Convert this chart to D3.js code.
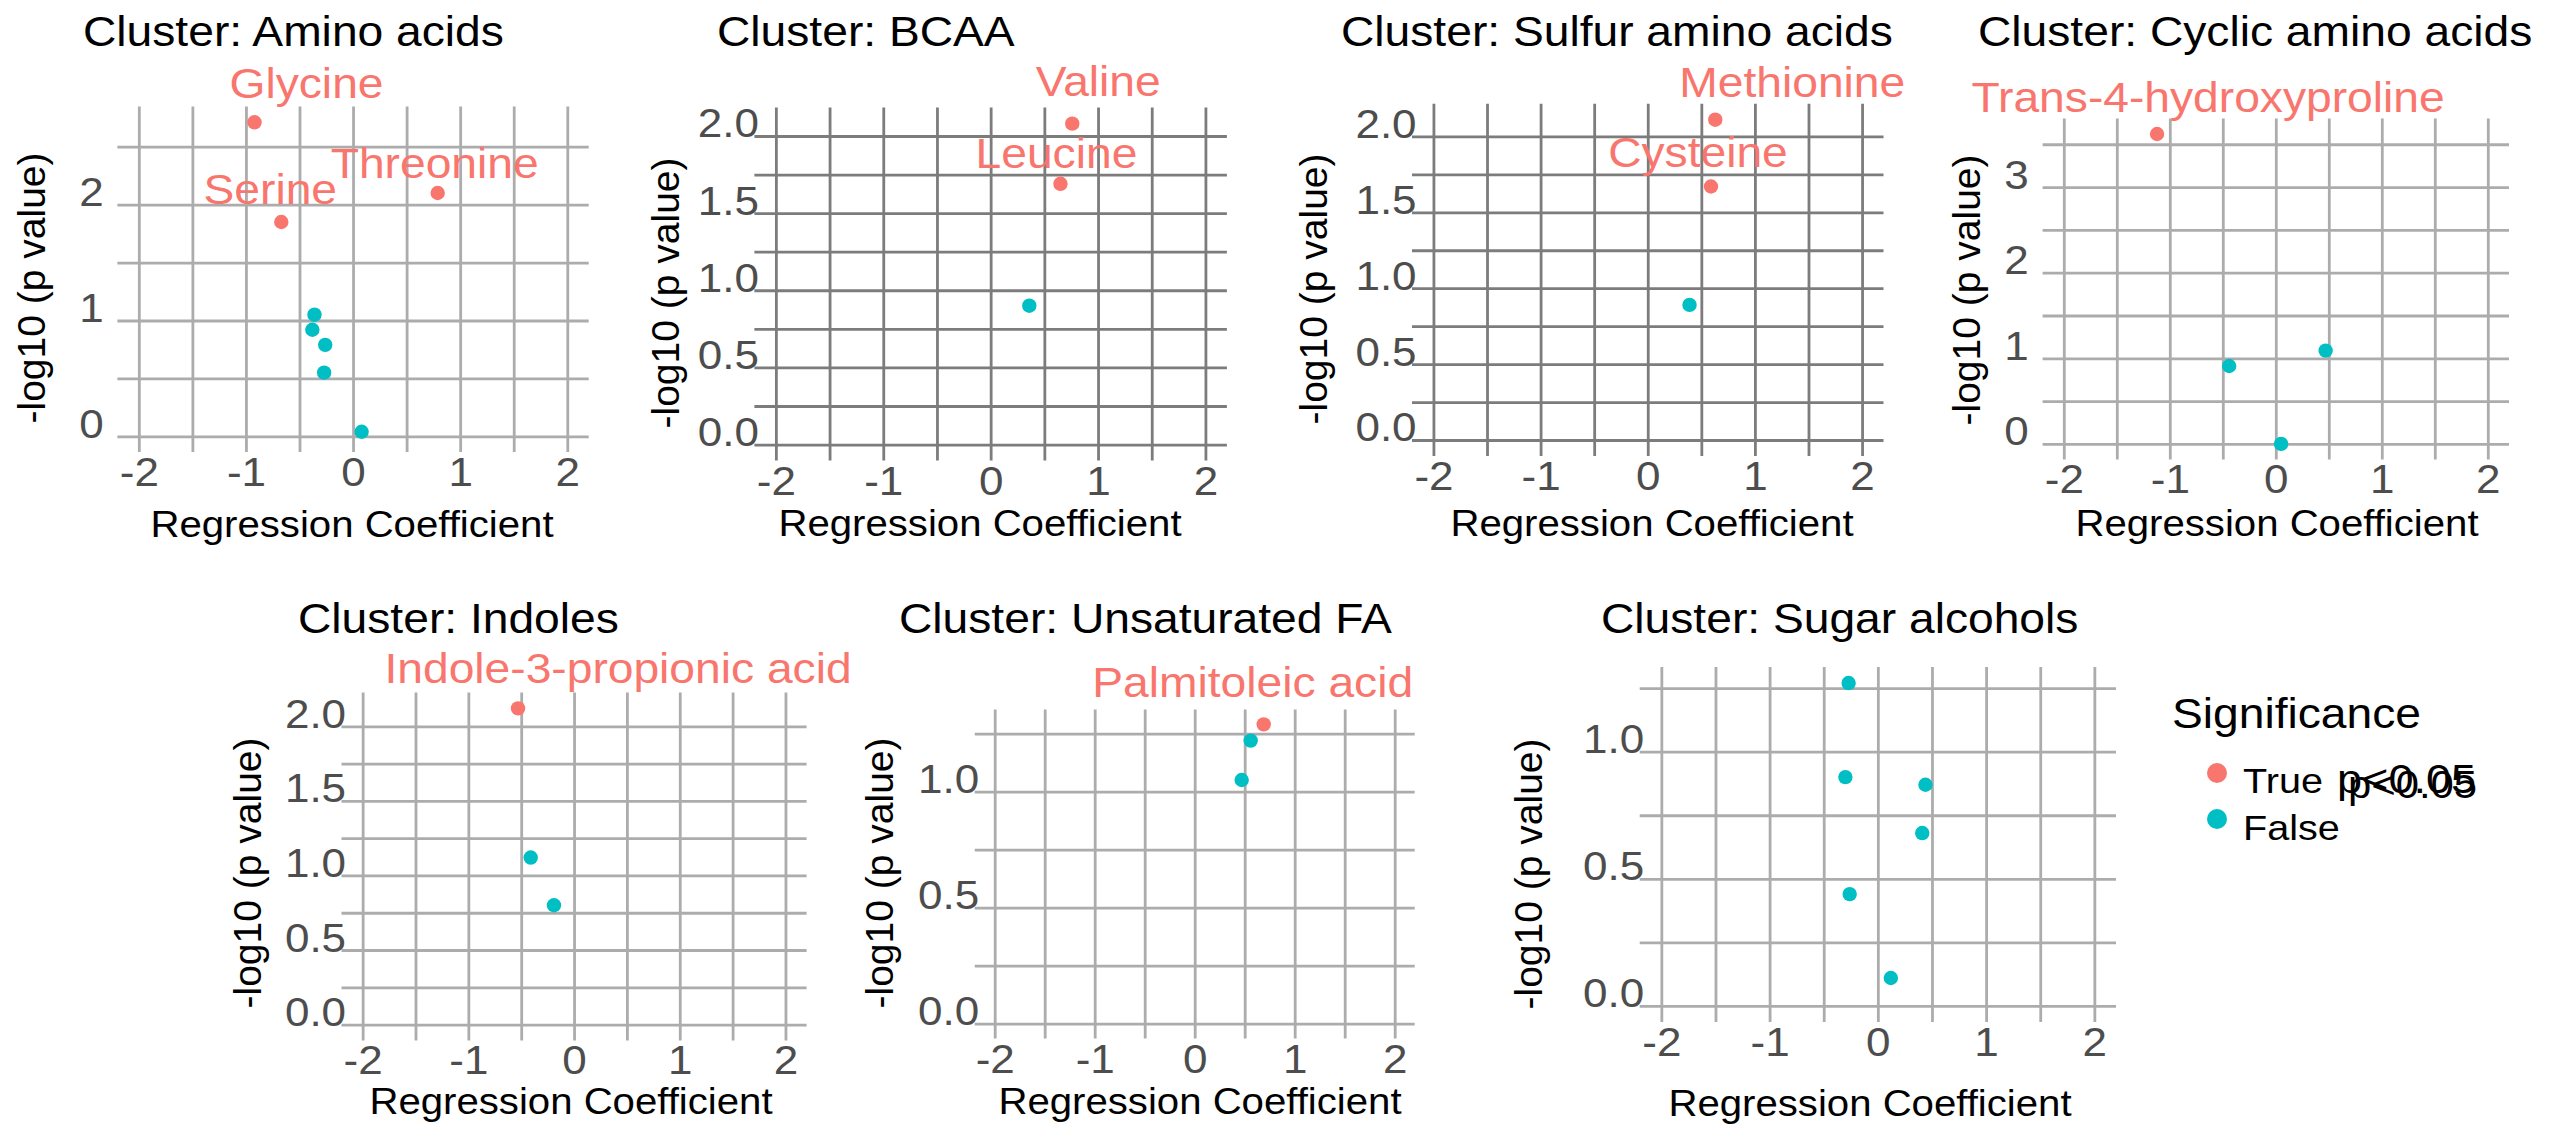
<!DOCTYPE html>
<html>
<head>
<meta charset="utf-8">
<script src="https://cdn.jsdelivr.net/npm/d3@7"></script>
<style>
  html, body { margin: 0; padding: 0; background: #fff; }
  svg { display: block; font-family: "Liberation Sans", Arial, sans-serif; }
</style>
</head>
<body>
<div id="chart"></div>
<script>
// ---- data ----
const clusterNames = ["Amino acids", "BCAA", "Sulfur amino acids", "Cyclic amino acids",
                      "Indoles", "Unsaturated FA", "Sugar alcohols"];

const coefValues = [
  [-0.92, -0.67, 0.79, -0.36, -0.38, -0.26, -0.27, 0.08],
  [0.76, 0.65, 0.36],
  [0.63, 0.59, 0.39],
  [-1.12, -0.44, 0.47, 0.05],
  [-0.53, -0.41, -0.19],
  [0.69, 0.56, 0.47],
  [-0.27, -0.30, 0.44, 0.41, -0.26, 0.12]
];

const logPValues = [
  [2.71, 1.85, 2.10, 1.05, 0.92, 0.79, 0.55, 0.04],
  [2.08, 1.69, 0.90],
  [2.11, 1.67, 0.89],
  [3.62, 0.91, 1.09, 0.00],
  [2.12, 1.12, 0.80],
  [1.29, 1.22, 1.05],
  [1.27, 0.90, 0.87, 0.68, 0.44, 0.11]
];

const significant = [
  [true, true, true, false, false, false, false, false],
  [true, true, false],
  [true, true, false],
  [true, false, false, false],
  [true, false, false],
  [true, false, false],
  [false, false, false, false, false, false]
];

const pointLabels = [
  ["Glycine", "Serine", "Threonine", "", "", "", "", ""],
  ["Valine", "Leucine", ""],
  ["Methionine", "Cysteine", ""],
  ["Trans-4-hydroxyproline", "", "", ""],
  ["Indole-3-propionic acid", "", ""],
  ["Palmitoleic acid", "", ""],
  ["", "", "", "", "", ""]
];

const xTicks = [-2, -1, 0, 1, 2];
const xLimits = [-2, 2];
const yTickValues = [
  [0, 1, 2], [0, 0.5, 1, 1.5, 2], [0, 0.5, 1, 1.5, 2], [0, 1, 2, 3],
  [0, 0.5, 1, 1.5, 2], [0, 0.5, 1], [0, 0.5, 1]
];
const yTickFormats = ["d", ".1f", ".1f", "d", ".1f", ".1f", ".1f"];

const legendTitle = "Significance";
const legendLabels = ["True", "False"];
const legendSuffix = "p<0.05"; // printed after "True", and once more on top of it

// ---- layout / style (kept apart from the data) ----
const W = 2566, H = 1130;
const RED = "#F8766D", TEAL = "#00BFC4";
const SX = 1.1; // glyphs in the reference are a little wider than Arial

const panelLayout = [
  { x0: 117.4,  x1: 588.7,  y0: 106.6, y1: 452.1,  titleX: 83,   titleY: 46,  yLabX: 35,   yLabY: 288, xTitleX: 352,  xTitleY: 537,  grid: "#acacac" },
  { x0: 754.4,  x1: 1226.9, y0: 107.6, y1: 460.6,  titleX: 717,  titleY: 46,  yLabX: 669,  yLabY: 293, xTitleX: 980,  xTitleY: 536,  grid: "#7c7c7c" },
  { x0: 1412,   x1: 1883.5, y0: 103.7, y1: 456,    titleX: 1341, titleY: 46,  yLabX: 1317, yLabY: 289, xTitleX: 1652, xTitleY: 536,  grid: "#7c7c7c" },
  { x0: 2042.6, x1: 2509,   y0: 118.5, y1: 459.4,  titleX: 1978, titleY: 46,  yLabX: 1970, yLabY: 290, xTitleX: 2277, xTitleY: 536,  grid: "#acacac" },
  { x0: 341.5,  x1: 806.6,  y0: 692.6, y1: 1040.4, titleX: 298,  titleY: 633, yLabX: 251,  yLabY: 873, xTitleX: 571,  xTitleY: 1114, grid: "#acacac" },
  { x0: 974.7,  x1: 1414.7, y0: 709.4, y1: 1038.5, titleX: 899,  titleY: 633, yLabX: 883,  yLabY: 873, xTitleX: 1200, xTitleY: 1114, grid: "#acacac" },
  { x0: 1639.7, x1: 2116,   y0: 666.9, y1: 1022.1, titleX: 1601, titleY: 633, yLabX: 1532, yLabY: 874, xTitleX: 1870, xTitleY: 1116, grid: "#acacac" }
];

// label offset (text centre/baseline relative to its point), like ggrepel placed them
const labelOffsets = {
  "Glycine": [52, -24], "Serine": [-11, -18], "Threonine": [-3, -15],
  "Valine": [26, -28], "Leucine": [-4, -16],
  "Methionine": [77, -23], "Cysteine": [-13, -20],
  "Trans-4-hydroxyproline": [51, -22],
  "Indole-3-propionic acid": [100, -25],
  "Palmitoleic acid": [-11, -27]
};

const svg = d3.select("#chart").append("svg")
  .attr("width", W)
  .attr("height", H);

svg.append("rect").attr("width", W).attr("height", H).attr("fill", "#fff");

function putText(g, x, y, str, size, anchor, fill) {
  return g.append("text")
    .attr("transform", `translate(${x},${y}) scale(${SX},1)`)
    .attr("text-anchor", anchor)
    .attr("font-size", size + "px")
    .attr("fill", fill)
    .text(str);
}

const dashFmt = (d) => (d < 0 ? "-" + Math.abs(d) : String(d));

function drawPanel(i) {
  const L = panelLayout[i];
  const g = svg.append("g");
  const data = coefValues[i].map((c, j) => ({
    x: c, y: logPValues[i][j], sig: significant[i][j], label: pointLabels[i][j]
  }));

  // ggplot style: x limits -2..2, y from 0, both expanded by 5%
  const xPad = 0.05 * (xLimits[1] - xLimits[0]);
  const x = d3.scaleLinear()
    .domain([xLimits[0] - xPad, xLimits[1] + xPad])
    .range([L.x0, L.x1]);
  const ymax = d3.max(data, (d) => d.y);
  const yPad = 0.05 * ymax;
  const y = d3.scaleLinear().domain([-yPad, ymax + yPad]).range([L.y1, L.y0]);

  // minor breaks sit halfway between majors
  const yt = yTickValues[i];
  const yStep = yt[1] - yt[0];
  const yGrid = d3.range(yt[0], ymax + yPad, yStep / 2).filter((v) => v <= ymax + yPad);
  const xGrid = d3.range(-2, 2.001, 0.5);

  // Gridlines
  g.append("g")
    .attr("transform", `translate(0,${L.y1})`)
    .call(d3.axisBottom(x).tickValues(xGrid).tickSize(-(L.y1 - L.y0)).tickFormat(""))
    .call((a) => a.select(".domain").remove())
    .selectAll("line")
    .attr("stroke", L.grid)
    .attr("stroke-width", 2.8);

  g.append("g")
    .attr("transform", `translate(${L.x0},0)`)
    .call(d3.axisLeft(y).tickValues(yGrid).tickSize(-(L.x1 - L.x0)).tickFormat(""))
    .call((a) => a.select(".domain").remove())
    .selectAll("line")
    .attr("stroke", L.grid)
    .attr("stroke-width", 2.8);

  // Points
  g.selectAll(".dot")
    .data(data)
    .join("circle")
    .attr("class", "dot")
    .attr("cx", (d) => x(d.x))
    .attr("cy", (d) => y(d.y))
    .attr("r", 7.2)
    .attr("fill", (d) => (d.sig ? RED : TEAL));

  // Labels for the significant ones
  data.filter((d) => d.label).forEach((d) => {
    const off = labelOffsets[d.label] || [0, -18];
    putText(g, x(d.x) + off[0], y(d.y) + off[1], d.label, 42, "middle", RED);
  });

  // X tick labels
  g.append("g")
    .attr("transform", `translate(0,${L.y1 + 34})`)
    .call(d3.axisBottom(x).tickValues(xTicks).tickSize(0).tickFormat(dashFmt))
    .call((a) => a.select(".domain").remove())
    .attr("font-family", null).attr("font-size", null)
    .selectAll("text")
    .attr("y", 0).attr("dy", null)
    .attr("transform", `scale(${SX},1)`)
    .attr("font-size", "40px")
    .attr("fill", "#4d4d4d");

  // Y tick labels
  g.append("g")
    .attr("transform", `translate(${L.x0 - 26},0)`)
    .call(d3.axisLeft(y).tickValues(yt).tickSize(0).tickFormat(d3.format(yTickFormats[i])))
    .call((a) => a.select(".domain").remove())
    .attr("font-family", null).attr("font-size", null)
    .selectAll("text")
    .attr("x", 0).attr("y", 1).attr("dy", null)
    .attr("text-anchor", "middle")
    .attr("transform", `scale(${SX},1)`)
    .attr("font-size", "40px")
    .attr("fill", "#4d4d4d");

  // Titles
  putText(g, L.titleX, L.titleY, "Cluster: " + clusterNames[i], 42, "start", "#000");
  putText(g, L.xTitleX, L.xTitleY, "Regression Coefficient", 36.5, "middle", "#000");

  g.append("text")
    .attr("transform", `translate(${L.yLabX},${L.yLabY}) rotate(-90)`)
    .attr("dy", "0.26em")
    .attr("text-anchor", "middle")
    .attr("font-size", "39px")
    .attr("fill", "#000")
    .text("-log10 (p value)");
}

clusterNames.forEach((_, i) => drawPanel(i));

// Legend
const lg = svg.append("g");
putText(lg, 2172, 728, legendTitle, 42, "start", "#000");
[RED, TEAL].forEach((c, k) => {
  lg.append("circle").attr("cx", 2217).attr("cy", 773 + k * 46).attr("r", 10).attr("fill", c);
  putText(lg, 2243, 793 + k * 47, legendLabels[k], 36, "start", "#000");
});
// the "p<0.05" part is printed twice, slightly shifted, in the reference
putText(lg, 2337, 793, legendSuffix, 41, "start", "#000");
putText(lg, 2348, 798, legendSuffix, 38, "start", "#000");
</script>
</body>
</html>
